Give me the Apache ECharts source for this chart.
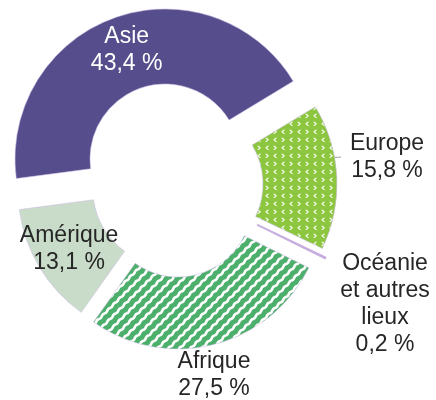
<!DOCTYPE html>
<html><head><meta charset="utf-8">
<script src="https://cdn.jsdelivr.net/npm/echarts@6/dist/echarts.min.js"></script>
<style>html,body{margin:0;padding:0;background:#fff}#c{width:436px;height:400px}</style>
</head><body><div id="c"></div>
<script>
// ---- data ----
const categories = ['Asie', 'Europe', 'Océanie et autres lieux', 'Afrique', 'Amérique'];
const labelNames = ['Asie', 'Europe', 'Océanie\net autres\nlieux', 'Afrique', 'Amérique'];
const shares = [43.4, 15.8, 0.2, 27.5, 13.1];

// ---- patterns ----
function chevronTile() {
  const c = document.createElement('canvas'); c.width = 16; c.height = 16;
  const g = c.getContext('2d');
  g.fillStyle = '#8cc63f'; g.fillRect(0, 0, 16, 16);
  g.strokeStyle = 'rgba(255,255,255,0.95)'; g.lineWidth = 1.1; g.lineCap = 'round';
  function gt(x, y) { g.beginPath(); g.moveTo(x, y); g.lineTo(x + 2.2, y + 1.8); g.lineTo(x, y + 3.6); g.stroke(); }
  function lt(x, y) { g.beginPath(); g.moveTo(x + 2.2, y); g.lineTo(x, y + 1.8); g.lineTo(x + 2.2, y + 3.6); g.stroke(); }
  gt(2, 2); lt(10, 2); lt(2, 10); gt(10, 10);
  return c;
}
function waveTile() {
  const S = 11;
  const c = document.createElement('canvas'); c.width = S; c.height = S;
  const g = c.getContext('2d');
  g.fillStyle = '#4caf6c'; g.fillRect(0, 0, S, S);
  g.strokeStyle = '#ffffff'; g.lineWidth = 2.6;
  for (let k = -1; k <= 3; k++) {
    g.beginPath();
    for (let t = -S; t <= 2 * S; t += 0.25) {
      const w = 0.5 * Math.sin(2 * Math.PI * t / (S / 2));
      const x = t + w / Math.SQRT2, y = k * S - t + w / Math.SQRT2;
      if (t === -S) g.moveTo(x, y); else g.lineTo(x, y);
    }
    g.stroke();
  }
  return c;
}

const fills = ['#564e8c', { image: chevronTile(), repeat: 'repeat' }, '#c6acdf',
               { image: waveTile(), repeat: 'repeat' }, '#c9dcc9'];
const centers = [[165, 159], [188, 184], [190, 192], [178, 203], [168, 190]];
const radii = [[75, 150], [75, 149], [75, 151], [74, 146], [75, 150]];
const labelColors = ['#ffffff', '#262626', '#262626', '#262626', '#262626'];
const labelPos = [null, [387, 157], [385, 304], [214, 375], null];
const font = 'Liberation Sans, Arial, sans-serif';

function fmt(i) {
  return labelNames[i] + '\n' + shares[i].toFixed(1).replace('.', ',') + ' %';
}

const series = categories.map((_, i) => ({
  type: 'pie',
  center: centers[i],
  radius: radii[i],
  startAngle: 187.5,
  clockwise: true,
  avoidLabelOverlap: false,
  silent: true,
  animation: false,
  z: i === 2 ? 3 : 2,
  data: categories.map((name, j) => {
    const vis = j === i;
    return {
      name: name,
      value: shares[j],
      itemStyle: vis
        ? { color: fills[j], borderColor: j === 2 ? '#c6acdf' : 'rgba(205,190,230,0.7)', borderWidth: j === 2 ? 1 : 0.8 }
        : { color: 'rgba(0,0,0,0)', borderWidth: 0 },
      label: vis ? {
        show: true,
        position: labelPos[j] ? 'outside' : 'inside',
        formatter: () => fmt(j),
        color: labelColors[j],
        fontFamily: font,
        fontSize: 23,
        lineHeight: 27,
        align: 'center'
      } : { show: false },
      labelLine: (vis && j === 1)
        ? { show: true, lineStyle: { color: '#a0a0a0', width: 1 } }
        : { show: false }
    };
  }),
  labelLayout: function (p) {
    if (p.dataIndex !== i || !labelPos[i]) return {};
    const o = { x: labelPos[i][0], y: labelPos[i][1], align: 'center', verticalAlign: 'middle' };
    if (i === 1) o.labelLinePoints = [[305, 172], [328, 158], [341, 157]];
    return o;
  }
}));

const chart = echarts.init(document.getElementById('c'), null, { renderer: 'canvas' });
chart.setOption({ backgroundColor: '#ffffff', animation: false, series: series });
</script>
</body></html>
